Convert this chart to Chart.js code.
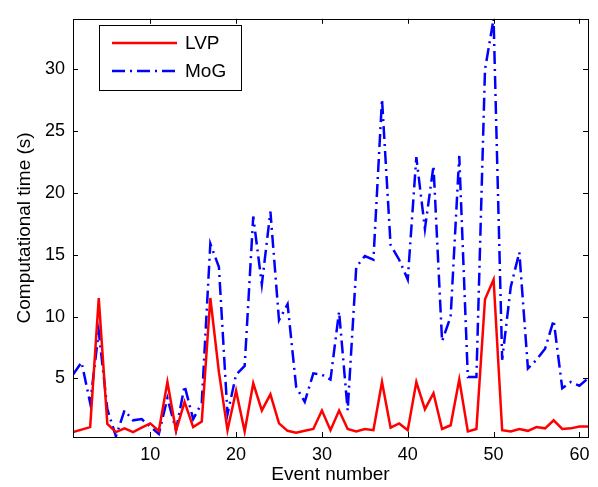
<!DOCTYPE html>
<html>
<head>
<meta charset="utf-8">
<script src="https://cdn.jsdelivr.net/npm/chart.js@4/dist/chart.umd.min.js"></script>
<style>
  html, body { margin: 0; padding: 0; background: #fff; }
  canvas { display: block; }
</style>
</head>
<body>
<canvas id="timeChart" width="598" height="487"></canvas>
<script>
const events = [];
for (let i = 1; i <= 61; i++) events.push(i);

const lvpTimes = [
  0.65, 0.85, 1.05, 11.5, 1.3, 0.65, 0.95, 0.65, 1.0, 1.35,
  0.75, 4.7, 0.75, 3.1, 1.05, 1.5, 11.5, 5.5, 0.8, 4.0,
  0.7, 4.6, 2.4, 3.7, 1.35, 0.75, 0.6, 0.75, 0.9, 2.4,
  0.8, 2.4, 0.9, 0.7, 0.9, 0.8, 4.7, 1.0, 1.35, 0.8,
  4.7, 2.5, 3.8, 0.9, 1.2, 4.9, 0.7, 0.9, 11.4, 13.0,
  0.8, 0.7, 0.9, 0.75, 1.05, 0.95, 1.6, 0.9, 0.95, 1.1,
  1.1
];

const mogTimes = [
  5.3, 6.3, 3.0, 8.8, 2.5, 0.3, 2.4, 1.6, 1.7, 1.1,
  0.5, 3.4, 0.8, 4.4, 1.7, 3.0, 15.9, 14.0, 2.1, 5.3,
  6.0, 18.1, 12.6, 18.5, 9.7, 11.0, 4.3, 3.1, 5.4, 5.3,
  4.9, 10.4, 2.4, 14.0, 14.9, 14.6, 27.6, 15.8, 14.6, 13.0,
  22.9, 17.1, 22.2, 8.0, 10.0, 23.0, 5.1, 5.1, 30.0, 34.1,
  6.5, 12.4, 15.2, 5.8, 6.5, 7.4, 9.7, 4.2, 4.7, 4.4,
  5.0
];

const xTicks = [10, 20, 30, 40, 50, 60];
const yTicks = [5, 10, 15, 20, 25, 30];

const FONT = '"Liberation Sans", Arial, Helvetica, sans-serif';

// inward ticks on all four sides, the box, and the legend (MATLAB look)
const matlabFrame = {
  id: "matlabFrame",
  afterDraw(chart) {
    const { ctx, chartArea: a, scales } = chart;
    const tl = 5;
    ctx.save();
    ctx.strokeStyle = "#000";
    ctx.lineWidth = 1;
    ctx.beginPath();
    scales.x.ticks.forEach((t) => {
      const px = Math.round(scales.x.getPixelForValue(t.value)) + 0.5;
      ctx.moveTo(px, a.bottom);
      ctx.lineTo(px, a.bottom - tl);
      ctx.moveTo(px, a.top);
      ctx.lineTo(px, a.top + tl);
    });
    scales.y.ticks.forEach((t) => {
      const py = Math.round(scales.y.getPixelForValue(t.value)) + 0.5;
      ctx.moveTo(a.left, py);
      ctx.lineTo(a.left + tl, py);
      ctx.moveTo(a.right, py);
      ctx.lineTo(a.right - tl, py);
    });
    ctx.stroke();
    ctx.strokeRect(Math.round(a.left) + 0.5, Math.round(a.top) + 0.5,
      Math.round(a.right - a.left), Math.round(a.bottom - a.top));

    // legend
    const bx = 99.5, by = 25.5, bw = 142, bh = 65;
    ctx.fillStyle = "#fff";
    ctx.fillRect(bx, by, bw, bh);
    ctx.strokeRect(bx, by, bw, bh);
    ctx.font = "19px " + FONT;
    ctx.textBaseline = "middle";
    chart.data.datasets.forEach((ds, i) => {
      const ly = 43 + i * 28;
      ctx.strokeStyle = ds.borderColor;
      ctx.lineWidth = ds.borderWidth;
      ctx.setLineDash(ds.borderDash || []);
      ctx.beginPath();
      ctx.moveTo(112, ly);
      ctx.lineTo(177, ly);
      ctx.stroke();
      ctx.setLineDash([]);
      ctx.fillStyle = "#000";
      ctx.fillText(ds.label, 185, ly + 1);
    });
    ctx.restore();
  },
};

const ctx = document.getElementById("timeChart");
new Chart(ctx, {
  type: "line",
  data: {
    datasets: [
      {
        label: "LVP",
        data: events.map((e, i) => ({ x: e, y: lvpTimes[i] })),
        borderColor: "#ff0000",
        borderWidth: 2.5,
        pointRadius: 0,
        tension: 0,
      },
      {
        label: "MoG",
        data: events.map((e, i) => ({ x: e, y: mogTimes[i] })),
        borderColor: "#0000ff",
        borderWidth: 2.5,
        borderDash: [13, 5, 2, 5],
        pointRadius: 0,
        tension: 0,
      },
    ],
  },
  options: {
    responsive: false,
    animation: false,
    devicePixelRatio: 1,
    layout: { padding: { top: 7, right: 10, left: 0, bottom: 0 } },
    plugins: {
      legend: { display: false },
      tooltip: { enabled: false },
    },
    scales: {
      x: {
        type: "linear",
        min: 1,
        max: 61,
        afterBuildTicks: (s) => { s.ticks = xTicks.map((v) => ({ value: v })); },
        afterFit: (s) => { s.height = 50; },
        grid: { display: false, drawTicks: false },
        border: { display: false },
        ticks: { color: "#000", font: { family: FONT, size: 18 }, padding: 7, maxRotation: 0 },
        title: {
          display: true,
          text: "Event number",
          color: "#000",
          font: { family: FONT, size: 19 },
          padding: { top: 0, bottom: 1 },
        },
      },
      y: {
        type: "linear",
        min: 0.25,
        max: 34.1,
        afterBuildTicks: (s) => { s.ticks = yTicks.map((v) => ({ value: v })); },
        afterFit: (s) => { s.width = 73; },
        grid: { display: false, drawTicks: false },
        border: { display: false },
        ticks: { color: "#000", font: { family: FONT, size: 18 }, padding: 8 },
        title: {
          display: true,
          text: "Computational time (s)",
          color: "#000",
          font: { family: FONT, size: 19 },
          padding: { top: 13, bottom: 0 },
        },
      },
    },
  },
  plugins: [matlabFrame],
});
</script>
</body>
</html>
